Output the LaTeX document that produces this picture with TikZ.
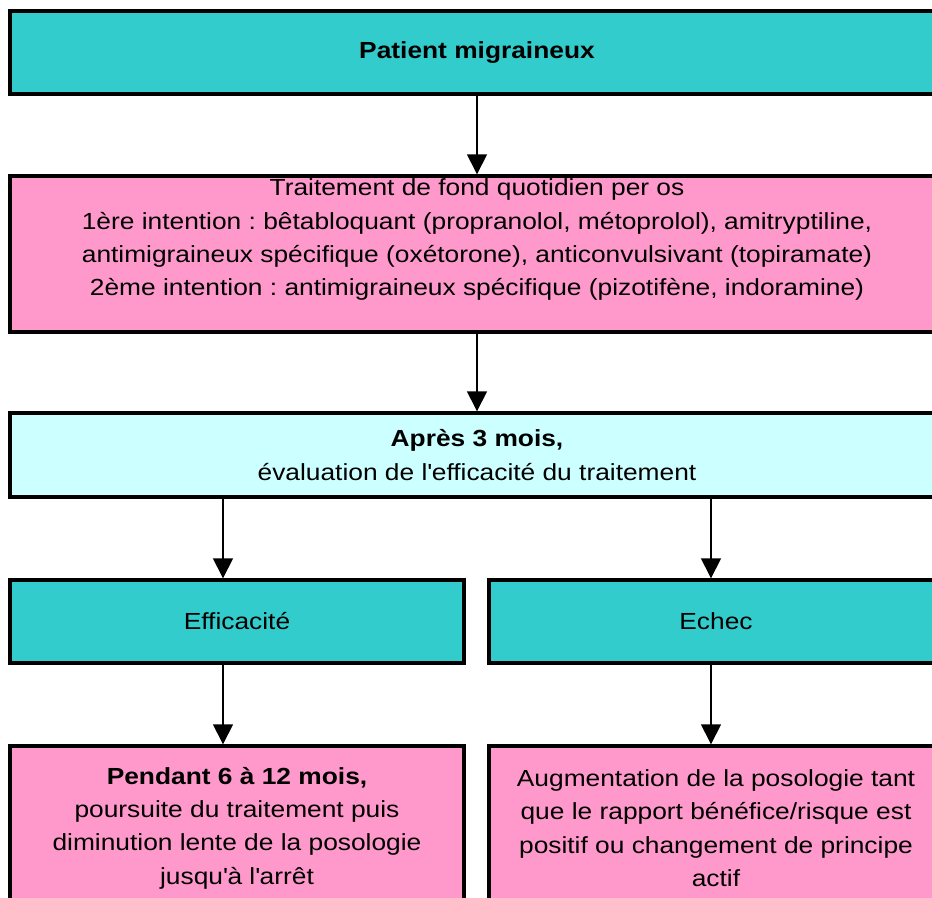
\documentclass[tikz,border=0pt]{standalone}
\usepackage{fontspec}
\setmainfont[FakeStretch=1.13]{Liberation Sans}
\usetikzlibrary{positioning,arrows.meta}
\definecolor{cyanbox}{RGB}{51,204,204}
\definecolor{pinkbox}{RGB}{255,153,204}
\definecolor{palebox}{RGB}{204,255,255}
\newcommand{\apos}{\textquotesingle}
\frenchspacing

\begin{document}
\begin{tikzpicture}[node distance=39.3pt,
  box/.style={draw=black,line width=1.7pt,align=center,inner sep=0pt,
    font=\fontsize{11.65pt}{16.7pt}\selectfont},
  wide/.style={box,minimum width=467pt},
  half/.style={box,minimum width=227pt},
  link/.style={-{Triangle[width=10pt,length=10pt]},line width=0.75pt}]
  \useasboundingbox (0,0) rectangle (466pt,-449pt);
  \clip (0,0) rectangle (466pt,-449pt);
  \node (patient) [wide,fill=cyanbox,minimum height=41.5pt] at (238.5pt,-26.25pt)
    {\textbf{Patient migraineux}};
  \node (fond) [wide,fill=pinkbox,minimum height=78pt,below=of patient]
    {Traitement de fond quotidien per os\\
     1ère intention : bêtabloquant (propranolol, métoprolol), amitryptiline,\\
     antimigraineux spécifique (oxétorone), anticonvulsivant (topiramate)\\
     2ème intention : antimigraineux spécifique (pizotifène, indoramine)\\
     \mbox{}};
  \node (eval) [wide,fill=palebox,minimum height=42pt,below=38.8pt of fond]
    {\textbf{Après 3 mois,}\\ évaluation de l\apos efficacité du traitement};
  \node (effic) [half,fill=cyanbox,minimum height=41.5pt,
    below=39.8pt of eval.south west,anchor=north west] {Efficacité};
  \node (echec) [half,fill=cyanbox,minimum height=41.5pt,right=10.8pt of effic] {Echec};
  \node (suite) [half,fill=pinkbox,minimum height=82pt,below=39.8pt of effic]
    {\textbf{Pendant 6 à 12 mois,}\\ poursuite du traitement puis\\
     diminution lente de la posologie\\ jusqu\apos à l\apos arrêt};
  \node (augm) [half,fill=pinkbox,minimum height=82pt,below=39.8pt of echec]
    {Augmentation de la posologie tant\\ que le rapport bénéfice/risque est\\
     positif ou changement de principe\\ actif};
  \path[link]
  (patient) edge (fond)
  (fond) edge (eval)
  ([xshift=-7pt]effic.north |- eval.south) edge ([xshift=-7pt]effic.north)
  ([xshift=-2.5pt]echec.north |- eval.south) edge ([xshift=-2.5pt]echec.north)
  ([xshift=-7pt]effic.south) edge ([xshift=-7pt]suite.north)
  ([xshift=-2.5pt]echec.south) edge ([xshift=-2.5pt]augm.north)
  ;
\end{tikzpicture}
\end{document}
